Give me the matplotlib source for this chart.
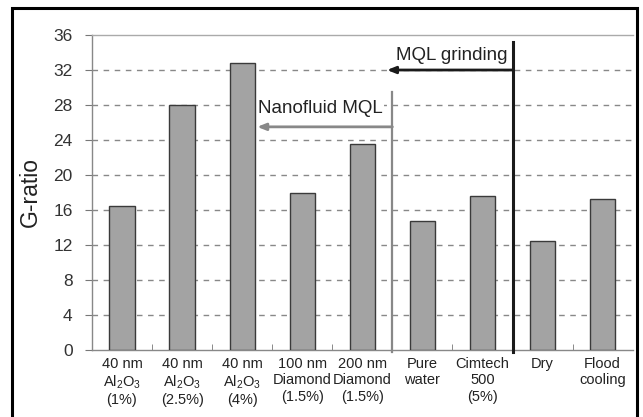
import matplotlib
matplotlib.use("Agg")
import matplotlib.pyplot as plt
from matplotlib.patches import Rectangle
import numpy as np

plt.rcParams['font.family'] = ['Liberation Sans', 'DejaVu Sans']
plt.rcParams['mathtext.default'] = 'regular'

categories = ["40 nm\n$Al_2O_3$\n(1%)", "40 nm\n$Al_2O_3$\n(2.5%)", "40 nm\n$Al_2O_3$\n(4%)",
              "100 nm\nDiamond\n(1.5%)", "200 nm\nDiamond\n(1.5%)", "Pure\nwater",
              "Cimtech\n500\n(5%)", "Dry", "Flood\ncooling"]
g_ratio = [16.4, 28.0, 32.8, 17.9, 23.5, 14.7, 17.6, 12.5, 17.3]
yticks = [0, 4, 8, 12, 16, 20, 24, 28, 32, 36]

fig = plt.figure(figsize=(6.43, 4.17), dpi=100)
ax = fig.add_axes([0.143, 0.161, 0.841, 0.755])

x = np.arange(len(categories))
ax.bar(x, g_ratio, width=0.42, color='#a3a3a3', edgecolor='#3a3a3a', linewidth=1.0, zorder=3)

ax.set_xlim(-0.5, len(categories) - 0.5)
ax.set_ylim(0, 36)
ax.set_yticks(yticks)
ax.set_xticks(x)
ax.set_xticklabels(categories, fontsize=10.5, color='#222222', linespacing=1.22)
ax.tick_params(axis='x', length=0, pad=5)
ax.set_xticks(np.arange(0.5, len(categories) - 1, 1), minor=True)
ax.tick_params(axis='x', which='minor', direction='in', length=4, color='#777777')
ax.tick_params(axis='y', labelsize=12.5, colors='#777777', length=5, direction='out', pad=9)
for lab in ax.get_yticklabels():
    lab.set_color('#333333')
ax.set_ylabel('G-ratio', fontsize=16.5, color='#222222', labelpad=8)

for v in yticks[1:-1]:
    ax.axhline(v, color='#888888', lw=1.0, ls=(0, (4, 4)), zorder=1)

for s in ['left', 'bottom']:
    ax.spines[s].set_color('#888888')
    ax.spines[s].set_linewidth(1.0)
ax.spines['right'].set_visible(False)
ax.spines['top'].set_color('#aaaaaa')
ax.spines['top'].set_linewidth(1.0)

# MQL grinding annotation
ax.plot([6.5, 6.5], [-0.3, 35.2], color='#1a1a1a', lw=2.2, clip_on=False, zorder=4)
ax.annotate('', xy=(4.41, 32.0), xytext=(6.5, 32.0),
            arrowprops=dict(arrowstyle='-|>,head_length=0.5,head_width=0.2', color='#1a1a1a', lw=2.0,
                            shrinkA=0, shrinkB=0), zorder=4)
ax.text(6.42, 33.7, 'MQL grinding', ha='right', va='center', fontsize=13.5, color='#222222', zorder=5)

# Nanofluid MQL annotation
ax.plot([4.5, 4.5], [-0.3, 29.5], color='#888888', lw=1.6, clip_on=False, zorder=4)
ax.annotate('', xy=(2.25, 25.5), xytext=(4.5, 25.5),
            arrowprops=dict(arrowstyle='-|>,head_length=0.5,head_width=0.2', color='#888888', lw=2.0,
                            shrinkA=0, shrinkB=0), zorder=4)
ax.text(2.27, 27.6, 'Nanofluid MQL', ha='left', va='center', fontsize=13.5, color='#222222',
        bbox=dict(facecolor='white', edgecolor='none', pad=0.5), zorder=5)

# outer border
fig.patches.append(Rectangle((12 / 643, -0.05), 625 / 643, 1 - 8 / 417 + 0.05,
                             transform=fig.transFigure, fill=False, edgecolor='black', lw=2.2))

fig.savefig('out.png', dpi=100, facecolor='white')
